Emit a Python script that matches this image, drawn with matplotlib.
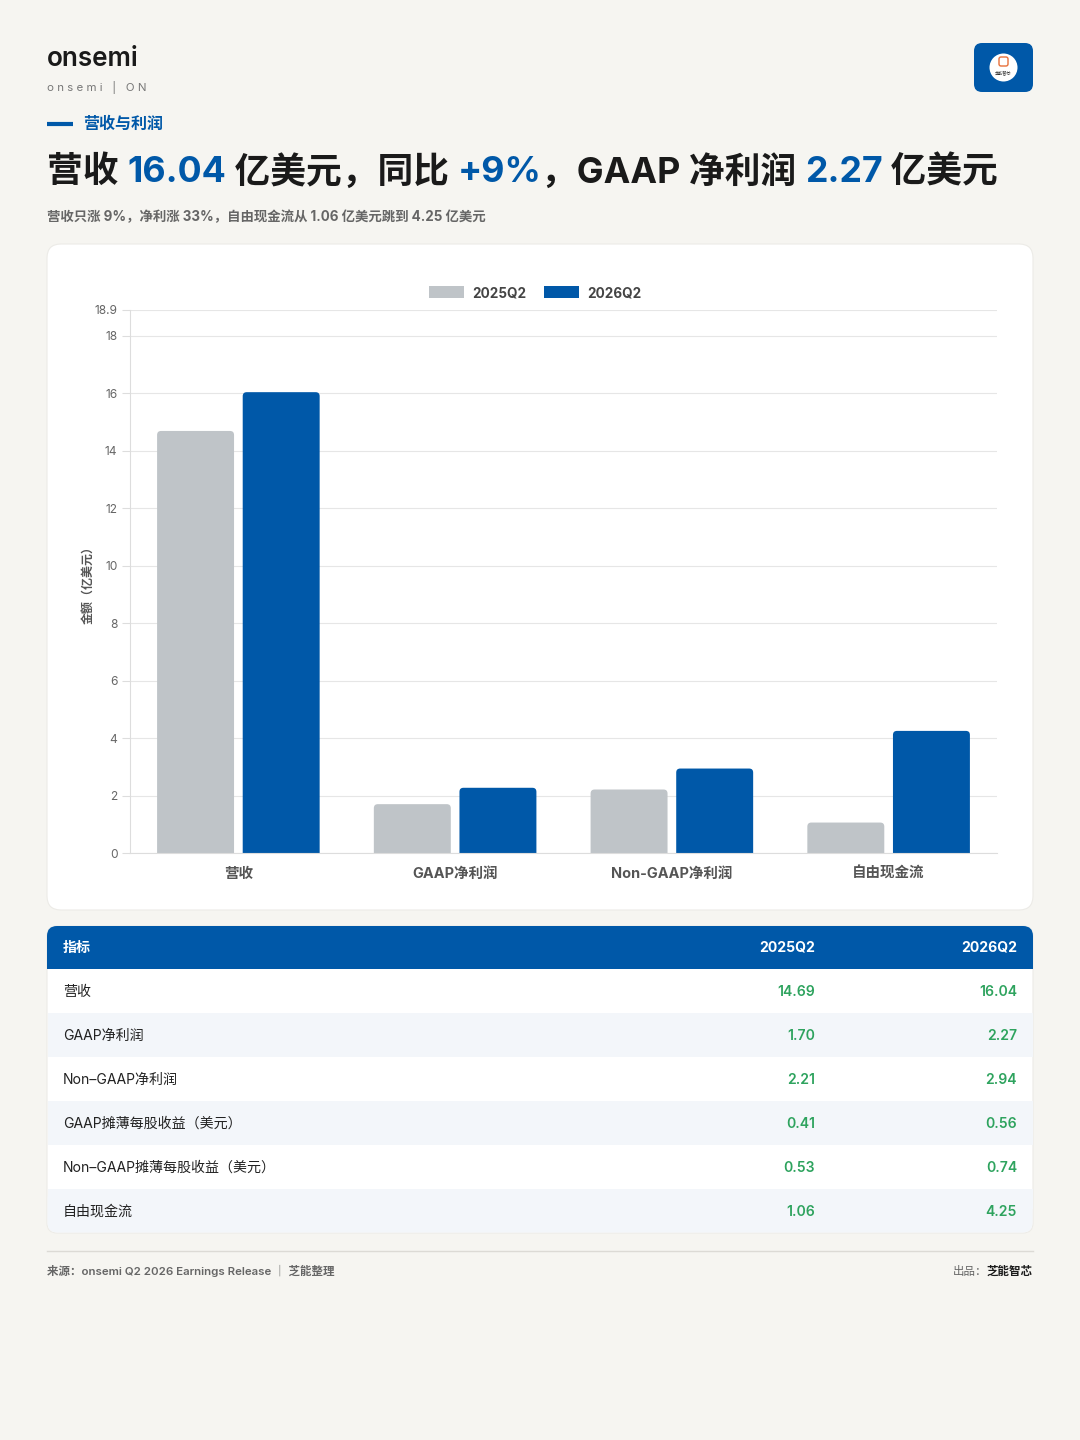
import matplotlib
matplotlib.use("Agg")
import matplotlib.pyplot as plt
from matplotlib.patches import FancyBboxPatch, Rectangle, Circle
import numpy as np

FAM = ['Inter', 'Noto Sans CJK SC', 'DejaVu Sans']
plt.rcParams['font.family'] = FAM

# ---------------- data ----------------
categories = ["营收", "GAAP净利润", "Non-GAAP净利润", "自由现金流"]
series_names = ["2025Q2", "2026Q2"]
values_2025 = [14.69, 1.70, 2.21, 1.06]
values_2026 = [16.04, 2.27, 2.94, 4.25]
y_ticks = [0, 2, 4, 6, 8, 10, 12, 14, 16, 18, 18.9]
y_tick_labels = ["0", "2", "4", "6", "8", "10", "12", "14", "16", "18", "18.9"]

table_labels = ["营收", "GAAP净利润", "Non–GAAP净利润", "GAAP摊薄每股收益（美元）",
                "Non–GAAP摊薄每股收益（美元）", "自由现金流"]
table_2025 = [14.69, 1.70, 2.21, 0.41, 0.53, 1.06]
table_2026 = [16.04, 2.27, 2.94, 0.56, 0.74, 4.25]
table_header = ["指标", "2025Q2", "2026Q2"]

# ---------------- style ----------------
BG = "#F6F5F1"
BLUE = "#0058A8"
GRAY_BAR = "#BFC4C8"
GREEN = "#2EA35E"
DARK = "#1A1A1A"
MUTED = "#666666"

W, H = 1080, 1440
fig = plt.figure(figsize=(W / 100, H / 100), dpi=100, facecolor=BG)

bg = fig.add_axes([0, 0, 1, 1], zorder=0)
bg.set_xlim(0, W)
bg.set_ylim(H, 0)
bg.axis("off")
bg.set_facecolor(BG)

def pt(px):
    return px * 72 / 100

fig.canvas.draw()
renderer = fig.canvas.get_renderer()

def draw_pieces(x0, y, pieces, size_px, weight, target_w=None):
    objs = []
    x = x0
    for s, c in pieces:
        t = bg.text(x, y, s, fontsize=pt(size_px), fontweight=weight, color=c, va="center", ha="left")
        x += t.get_window_extent(renderer).width
        objs.append(t)
    if target_w is not None:
        total = x - x0
        for o in objs:
            o.remove()
        return draw_pieces(x0, y, pieces, size_px * target_w / total, weight, None)
    return x

# ---------------- header ----------------
bg.text(47, 59, "onsemi", fontsize=pt(26), fontweight="semibold", color=DARK, va="center", ha="left")
bg.text(47, 87, "o n s e m i   |   O N", fontsize=pt(11.5), color="#777777", va="center", ha="left")
bg.plot([47, 73], [124, 124], color=BLUE, lw=3, solid_capstyle="butt")
bg.text(83, 124, "营收与利润", fontsize=pt(16), fontweight="bold", color=BLUE, va="center", ha="left")

# logo
bg.add_patch(FancyBboxPatch((974, 43), 59, 49, boxstyle="round,pad=0,rounding_size=8",
                            fc=BLUE, ec="none"))
bg.add_patch(Circle((1003.5, 67.5), 14, fc="white", ec="none"))
bg.add_patch(FancyBboxPatch((999, 57), 9, 9, boxstyle="round,pad=0,rounding_size=2",
                            fc="none", ec="#E8703A", lw=1))
bg.text(1003.5, 73, "芝能智芯", fontsize=3, color="#333333", ha="center", va="center")

# title with mixed colors
pieces = [("营收 ", DARK), ("16.04", BLUE), (" 亿美元，同比 ", DARK), ("+9%", BLUE),
          ("，GAAP 净利润 ", DARK), ("2.27", BLUE), (" 亿美元", DARK)]
draw_pieces(47, 172, pieces, 37, "bold", target_w=951)

draw_pieces(47, 217, [("营收只涨 9%，净利涨 33%，自由现金流从 1.06 亿美元跳到 4.25 亿美元", MUTED)],
            13.5, "bold", target_w=441)

# ---------------- chart card ----------------
bg.add_patch(FancyBboxPatch((47, 244), 986, 666, boxstyle="round,pad=0,rounding_size=14",
                            fc="white", ec="#ECEBE7", lw=0.8))

ax_px = (130, 310, 997, 853)
ax = fig.add_axes([ax_px[0] / W, 1 - ax_px[3] / H, (ax_px[2] - ax_px[0]) / W, (ax_px[3] - ax_px[1]) / H], zorder=2)
ax.set_facecolor("none")
xpos = np.arange(len(categories))
bw = 0.355
off = 0.1975
b1 = ax.bar(xpos - off, values_2025, width=bw, color=GRAY_BAR, label=series_names[0], zorder=3)
b2 = ax.bar(xpos + off, values_2026, width=bw, color=BLUE, label=series_names[1], zorder=3)
ax.set_xlim(-0.5, len(categories) - 0.5)
ax.set_ylim(0, 18.9)

# round the top corners of the bars (replace rectangles by rounded boxes of the same geometry)
x_per_px = (ax.get_xlim()[1] - ax.get_xlim()[0]) / (ax_px[2] - ax_px[0])
y_per_px = (ax.get_ylim()[1] - ax.get_ylim()[0]) / (ax_px[3] - ax_px[1])
r_px = 4
for cont in (b1, b2):
    for rect in cont.patches:
        x0, y0 = rect.get_x(), rect.get_y()
        w, h = rect.get_width(), rect.get_height()
        rb = FancyBboxPatch((x0, y0 - r_px * y_per_px * 2), w, h + r_px * y_per_px * 2,
                            boxstyle=f"round,pad=0,rounding_size={r_px * x_per_px}",
                            mutation_aspect=y_per_px / x_per_px,
                            fc=rect.get_facecolor(), ec="none", zorder=3)
        ax.add_patch(rb)
        rect.set_visible(False)

ax.set_yticks(y_ticks)
ax.set_yticklabels(y_tick_labels)
ax.set_xticks(xpos)
ax.set_xticklabels(categories)
ax.grid(axis="y", color="#E6E6E6", lw=0.8, zorder=0)
for s in ["top", "right"]:
    ax.spines[s].set_visible(False)
for s in ["left", "bottom"]:
    ax.spines[s].set_color("#DDDDDD")
    ax.spines[s].set_linewidth(0.8)
    ax.spines[s].set_zorder(4)
ax.tick_params(axis="y", length=6, color="#DDDDDD", labelsize=pt(12), labelcolor="#666666", pad=3)
ax.tick_params(axis="x", length=0, labelsize=pt(14.5), labelcolor="#555555", pad=10)
for lab in ax.get_xticklabels():
    lab.set_fontweight("bold")
ax.set_ylabel("金额（亿美元）", fontsize=pt(12), fontweight="bold", color="#555555", labelpad=0)

from matplotlib.patches import Patch
handles = [Patch(fc=GRAY_BAR, ec="none"), Patch(fc=BLUE, ec="none")]
leg = ax.legend(handles, series_names, loc="center", bbox_to_anchor=(535 / W, 1 - 293 / H),
                bbox_transform=fig.transFigure,
                ncol=2, frameon=False, handlelength=2.6, handleheight=1.0, handletextpad=0.6,
                columnspacing=1.3, prop={"size": pt(13.5), "weight": "bold"})
for t in leg.get_texts():
    t.set_color("#444444")

# ---------------- table ----------------
tx0, tx1 = 47, 1033
ty0 = 926
head_h = 43
row_h = 44
n = len(table_labels)
ty1 = ty0 + head_h + n * row_h
bg.add_patch(FancyBboxPatch((tx0, ty0), tx1 - tx0, ty1 - ty0, boxstyle="round,pad=0,rounding_size=10",
                            fc="white", ec="#ECEBE7", lw=0.8))
bg.add_patch(FancyBboxPatch((tx0, ty0), tx1 - tx0, head_h, boxstyle="round,pad=0,rounding_size=10",
                            fc=BLUE, ec="none"))
bg.add_patch(Rectangle((tx0, ty0 + 20), tx1 - tx0, head_h - 20, fc=BLUE, ec="none"))
col_x = [63, 815, 1017]
hy = ty0 + head_h / 2
bg.text(col_x[0], hy, table_header[0], fontsize=pt(14), fontweight="bold", color="white", va="center", ha="left")
bg.text(col_x[1], hy, table_header[1], fontsize=pt(14), fontweight="bold", color="white", va="center", ha="right")
bg.text(col_x[2], hy, table_header[2], fontsize=pt(14), fontweight="bold", color="white", va="center", ha="right")
for i in range(n):
    ry = ty0 + head_h + i * row_h
    if i % 2 == 1:
        if i == n - 1:
            bg.add_patch(FancyBboxPatch((tx0 + 0.5, ry), tx1 - tx0 - 1, row_h - 0.5,
                                        boxstyle="round,pad=0,rounding_size=10", fc="#F3F6FA", ec="none"))
            bg.add_patch(Rectangle((tx0 + 0.5, ry), tx1 - tx0 - 1, 20, fc="#F3F6FA", ec="none"))
        else:
            bg.add_patch(Rectangle((tx0 + 0.5, ry), tx1 - tx0 - 1, row_h, fc="#F3F6FA", ec="none"))
    cy = ry + row_h / 2 + 1
    bg.text(col_x[0], cy, table_labels[i], fontsize=pt(14), color="#222222", va="center", ha="left")
    bg.text(col_x[1], cy, f"{table_2025[i]:.2f}", fontsize=pt(14), fontweight="semibold", color=GREEN,
            va="center", ha="right")
    bg.text(col_x[2], cy, f"{table_2026[i]:.2f}", fontsize=pt(14), fontweight="semibold", color=GREEN,
            va="center", ha="right")

# ---------------- footer ----------------
bg.plot([47, 1033], [1251, 1251], color="#DCDAD5", lw=1)
bg.text(47, 1271, "来源：onsemi Q2 2026 Earnings Release ｜ 芝能整理", fontsize=pt(11.5), fontweight="semibold",
        color="#666666", va="center", ha="left")
t2 = bg.text(1033, 1271, "芝能智芯", fontsize=pt(11.5), fontweight="bold", color=DARK, va="center", ha="right")
bb = t2.get_window_extent(renderer)
bg.text(1033 - bb.width, 1271, "出品：", fontsize=pt(11.5), color="#666666", va="center", ha="right")

fig.savefig("out.png", dpi=100, facecolor=BG)
